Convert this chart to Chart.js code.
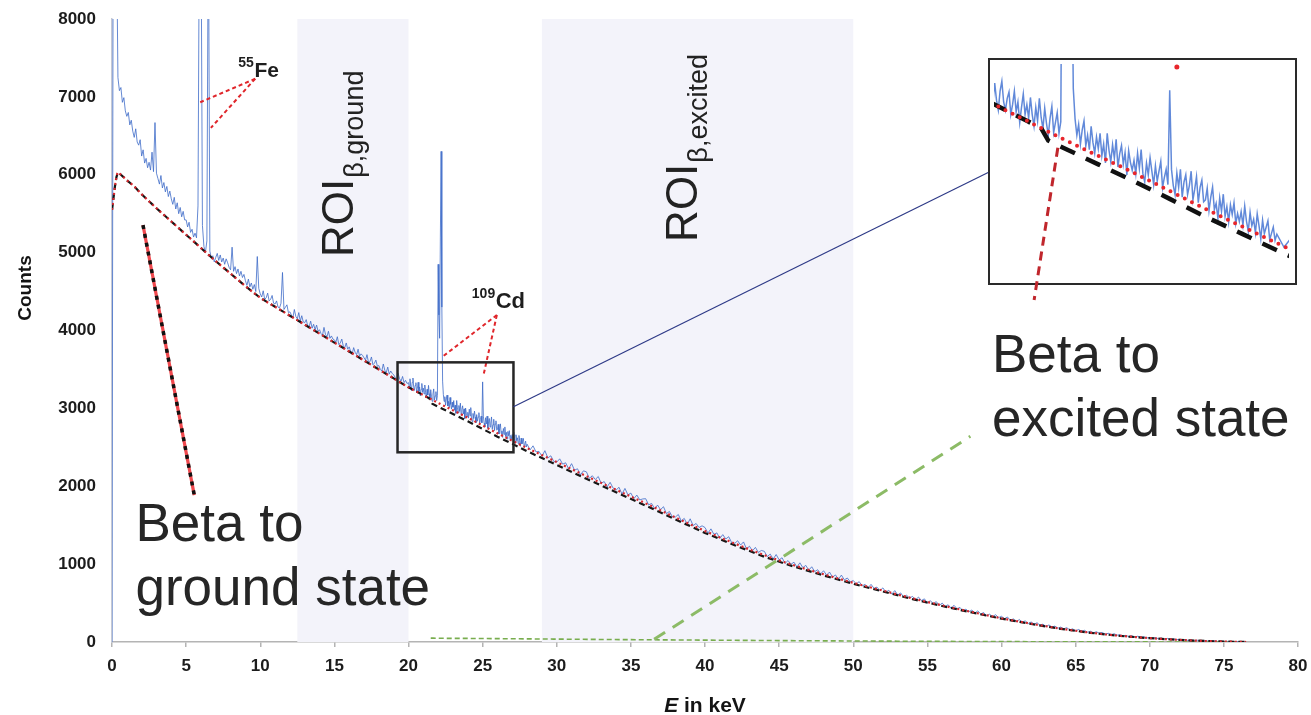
<!DOCTYPE html>
<html>
<head>
<meta charset="utf-8">
<title>Beta spectrum</title>
<script src="https://cdn.jsdelivr.net/npm/chart.js@4.4.1/dist/chart.umd.min.js"></script>
<style>
  html, body { margin: 0; padding: 0; background: #fff; }
  #stage { position: relative; width: 1311px; height: 715px; overflow: hidden; }
  #main, #overlay { position: absolute; left: 0; top: 0; }
  #overlay { pointer-events: none; }
  #insetFrame { position: absolute; box-sizing: border-box; border: 2.5px solid #2a2a2a; background: #fff; overflow: hidden; }
  #inset { display: block; filter: blur(0.7px); }
</style>
</head>
<body>
<div id="stage">
  <canvas id="main" width="1311" height="715"></canvas>
  <div id="insetFrame"><canvas id="inset"></canvas></div>
  <canvas id="overlay" width="1311" height="715"></canvas>
</div>
<script>
// ---------- measured spectrum (counts per bin) ----------
// 0.0 ... 19.9 keV in 0.1 keV steps
const lowBandStart = 0.0;
const lowBandStep = 0.1;
const lowBandCounts = [
  0, 12000, 11000, 9200, 7250, 7080, 7120, 6930, 6990, 6820,
  6750, 6800, 6640, 6700, 6560, 6480, 6590, 6420, 6380, 6450,
  6240, 6320, 6150, 6210, 6090, 6160, 6060, 6290, 6040, 6670,
  6020, 5950, 5880, 5990, 5830, 5900, 5780, 5850, 5720, 5790,
  5690, 5620, 5710, 5560, 5640, 5500, 5580, 5460, 5530, 5420,
  5420, 5330, 5390, 5260, 5300, 5200, 5250, 5190, 5600, 9500,
  9500, 5350, 5080, 5000, 5150, 9500, 5020, 4930, 4960, 4880,
  4940, 4990, 4900, 4970, 4880, 4930, 4850, 4920, 4870, 4810,
  4780, 5070, 4760, 4820, 4730, 4790, 4700, 4760, 4680, 4720,
  4640, 4580, 4660, 4560, 4610, 4530, 4590, 4500, 4950, 4540,
  4470, 4430, 4510, 4400, 4420, 4480, 4380, 4400, 4450, 4350,
  4340, 4380, 4300, 4290, 4350, 4745, 4270, 4300, 4330, 4230,
  4240, 4200, 4160, 4270, 4180, 4150, 4230, 4120, 4190, 4110,
  4100, 4140, 4060, 4050, 4120, 4030, 4080, 4010, 4070, 3990,
  4010, 3960, 3940, 4040, 3950, 3920, 3990, 3900, 3930, 3890,
  3880, 3850, 3920, 3820, 3840, 3890, 3800, 3780, 3840, 3760,
  3790, 3730, 3700, 3780, 3720, 3690, 3760, 3670, 3700, 3680,
  3650, 3620, 3690, 3590, 3600, 3660, 3560, 3580, 3620, 3540,
  3550, 3500, 3480, 3570, 3490, 3460, 3530, 3440, 3480, 3450,
  3430, 3400, 3360, 3450, 3380, 3350, 3410, 3330, 3360, 3320
];
// 20.00 ... 27.95 keV in 0.05 keV steps (109Cd lines region)
const midBandStart = 20.0;
const midBandStep = 0.05;
const midBandCounts = [
  3330, 3275, 3380, 3285, 3230, 3335, 3390, 3275, 3230, 3295, 3330, 3205, 3260, 3335, 3220, 3275, 3160, 3245, 3320, 3205,
  3260, 3185, 3300, 3205, 3140, 3245, 3170, 3295, 3190, 3125, 3240, 3155, 3090, 3185, 3250, 3105, 3160, 3215, 3100, 3165,
  4850, 4200, 3900, 5200, 6300, 4300, 3350, 3180, 3090, 3150, 3040, 3120, 3170, 3030, 3090, 3010, 3140, 3050, 2990, 3080,
  3015, 3100, 2976, 3041, 2936, 3101, 3006, 2942, 3037, 2962, 3067, 2913, 2988, 3033, 2928, 2994, 2869, 3004, 2939, 2895,
  2950, 2875, 2990, 2905, 3010, 2875, 2830, 2935, 2870, 2965, 2890, 2815, 2920, 2835, 2890, 2945, 2800, 2855, 2900, 2815,
  3340, 2900, 2810, 2760, 2880, 2800, 2900, 2745, 2830, 2870, 2760, 2810, 2890, 2730, 2790, 2860, 2715, 2800, 2840, 2720,
  2730, 2795, 2671, 2746, 2801, 2676, 2711, 2627, 2742, 2667, 2762, 2638, 2693, 2608, 2703, 2649, 2714, 2599, 2654, 2610,
  2665, 2590, 2696, 2611, 2556, 2661, 2586, 2622, 2547, 2652, 2587, 2513, 2618, 2543, 2578, 2614, 2509, 2544, 2579, 2505
];
// 28.0 ... 76.4 keV in 0.2 keV steps
const highBandStart = 28.0;
const highBandStep = 0.2;
const highBandCounts = [
  2540, 2467, 2519, 2441, 2448, 2385, 2457, 2364, 2391, 2318,
  2310, 2352, 2284, 2301, 2223, 2290, 2207, 2224, 2146, 2198,
  2185, 2102, 2135, 2087, 2125, 2037, 2060, 1992, 2050, 1977,
  1950, 1987, 1900, 1972, 1890, 1912, 1840, 1887, 1825, 1837,
  1840, 1762, 1779, 1711, 1758, 1700, 1737, 1649, 1676, 1608,
  1605, 1637, 1555, 1587, 1510, 1582, 1495, 1522, 1470, 1492,
  1470, 1399, 1453, 1382, 1401, 1330, 1379, 1323, 1352, 1276,
  1265, 1300, 1245, 1285, 1195, 1230, 1170, 1215, 1150, 1175,
  1165, 1097, 1129, 1066, 1123, 1055, 1082, 1009, 1046, 998,
  1025, 963, 1017, 955, 984, 922, 966, 904, 928, 876,
  915, 859, 898, 832, 861, 805, 859, 798, 822, 771,
  790, 745, 775, 720, 740, 695, 740, 690, 705, 660,
  695, 640, 665, 615, 660, 605, 630, 575, 600, 565,
  585, 541, 577, 533, 554, 500, 531, 492, 518, 469,
  500, 456, 478, 434, 471, 427, 444, 400, 422, 388,
  410, 372, 399, 361, 378, 335, 357, 324, 351, 313,
  330, 298, 321, 279, 297, 260, 288, 256, 271, 237,
  257, 229, 247, 214, 230, 198, 219, 193, 204, 176,
  192, 169, 184, 156, 169, 144, 161, 138, 150, 125,
  138, 118, 132, 112, 122, 100, 112, 94, 106, 88,
  93, 76, 86, 68, 79, 63, 75, 59, 67, 51,
  59, 46, 56, 41, 50, 37, 46, 34, 41, 29,
  34, 23, 31, 19, 26, 16, 23, 14, 20, 10,
  17, 9, 14, 7, 12, 5, 9, 4, 7, 2,
  4, 1, 2
];

// ---------- fitted components ----------
const fitEnergy = [0, 0.1, 0.2, 0.3, 0.4, 0.6, 1, 1.5, 2, 3, 4, 5, 6, 7, 8, 9, 10, 11, 12, 13, 14, 15, 16, 17, 18, 19, 20, 21, 21.4, 21.6,
  22, 23, 24, 25, 26, 27, 28, 29, 30, 32, 34, 36, 38, 40, 42, 44, 46, 48, 50, 52, 54, 56, 58, 60, 62, 64, 66, 68, 70, 72, 74, 76, 76.5];
// total fit (ground + excited)
const totalFit = [5550, 5700, 5850, 5970, 6030, 6000, 5930, 5850, 5750, 5570, 5400, 5230, 5060, 4890, 4730, 4570, 4420, 4305, 4190, 4075,
  3960, 3845, 3730, 3615, 3500, 3385, 3270, 3170, 3130, 3110,
  3070, 2975, 2880, 2780, 2680, 2585, 2490, 2400, 2310, 2130, 1955, 1780, 1600, 1425, 1265, 1115, 985, 870, 760, 660, 560, 470, 385, 305,
  235, 172, 120, 80, 50, 27, 11, 2, 0];
// beta decay to the ground state
const groundFit = [5550, 5700, 5850, 5970, 6030, 6000, 5930, 5850, 5750, 5570, 5400, 5230, 5060, 4890, 4730, 4570, 4420, 4305, 4190, 4075,
  3960, 3845, 3730, 3615, 3500, 3385, 3270, 3170, 3130, 3060,
  3022, 2928, 2834, 2736, 2637, 2544, 2450, 2362, 2273, 2096, 1924, 1751, 1574, 1401, 1243, 1095, 968, 855, 747, 649, 550, 462, 379, 300,
  231, 169, 118, 78, 49, 27, 11, 2, 0];
// beta decay to the excited state
const excitedEnergy = [21.5, 22, 24, 26, 28, 30, 35, 40, 45, 50, 55, 60, 65, 70, 76.5];
const excitedFit = [50, 48, 46, 43, 40, 37, 30, 24, 18, 13, 9, 5, 3, 1, 0];
// fitted 25 keV line apex, shown in the magnified view
const lineMarkerEnergy = [25.2];
const lineMarkerCounts = [3470];

// ---------- axes ----------
const energyRange = [0, 80];
const energyStep = 5;
const countRange = [0, 8000];
const countStep = 1000;
const zoomEnergyRange = [20.08, 28.34];
const zoomCountRange = [2296, 3486];

// ---------- regions of interest and annotations (energy keV, counts) ----------
const roiBands = [[12.5, 20], [29, 50]];
const roiLabels = [
  { at: [16.25, 4945], main: 'ROI', sub: 'β,ground' },
  { at: [39.45, 5138], main: 'ROI', sub: 'β,excited' }
];
const feLeaders = [[[9.66, 7233], [5.95, 6931]], [[9.66, 7233], [6.67, 6602]]];
const cdLeaders = [[[25.96, 4199], [22.32, 3667]], [[25.96, 4199], [25.06, 3428]]];
const lineLabels = [
  { at: [8.52, 7257], sup: '55', text: 'Fe', size: 21 },
  { at: [24.27, 4289], sup: '109', text: 'Cd', size: 22 }
];
const groundPointer = [[2.09, 5354], [5.55, 1886]];
const excitedPointer = [[63.8, 6346], [62.2, 4391]];
const excitedCurvePointer = [[36.57, 34], [57.9, 2641]];
const zoomBox = [[19.26, 3591], [27.08, 2436]];
const zoomConnector = [[27.08, 3021], [59.1, 6028]];
const insetBox = [[59.1, 7495], [79.9, 4585]];
const stateLabels = [
  { at: [1.58, 1295], lines: ['Beta to', 'ground state'] },
  { at: [59.36, 3467], lines: ['Beta to', 'excited state'] }
];

// ---------- build library data ----------
const FONT = "'Liberation Sans', Arial, Helvetica, sans-serif";
Chart.defaults.font.family = FONT;

const spectrumPoints = [];
function addBand(start, step, counts) {
  counts.forEach((c, i) => spectrumPoints.push({ x: +(start + i * step).toFixed(3), y: c }));
}
addBand(lowBandStart, lowBandStep, lowBandCounts);
addBand(midBandStart, midBandStep, midBandCounts);
addBand(highBandStart, highBandStep, highBandCounts);
const pairUp = (xs, ys) => xs.map((x, i) => ({ x: x, y: ys[i] }));
const totalPoints = pairUp(fitEnergy, totalFit);
const groundPoints = pairUp(fitEnergy, groundFit);
const excitedPoints = pairUp(excitedEnergy, excitedFit);
const markerPoints = pairUp(lineMarkerEnergy, lineMarkerCounts);

const roiShading = {
  id: 'roiShading',
  beforeDatasetsDraw(chart) {
    const { ctx, chartArea, scales } = chart;
    ctx.save();
    ctx.fillStyle = '#f3f3fa';
    roiBands.forEach(([a, b]) => {
      const x1 = scales.x.getPixelForValue(a);
      const x2 = scales.x.getPixelForValue(b);
      ctx.fillRect(x1, chartArea.top, x2 - x1, chartArea.bottom - chartArea.top);
    });
    ctx.restore();
  }
};

const mainChart = new Chart(document.getElementById('main'), {
  type: 'line',
  data: {
    datasets: [
      { data: totalPoints, borderColor: '#d8282e', borderWidth: 2.2, borderDash: [2, 3], pointRadius: 0, cubicInterpolationMode: 'monotone', order: 0 },
      { data: groundPoints, borderColor: '#161616', borderWidth: 2.2, borderDash: [6, 4], pointRadius: 0, tension: 0, order: 1 },
      { data: excitedPoints, borderColor: '#78ad4e', borderWidth: 1.6, borderDash: [5, 3], pointRadius: 0, cubicInterpolationMode: 'monotone', order: 2 },
      { data: spectrumPoints, borderColor: 'rgba(62,108,200,0.8)', borderWidth: 1, pointRadius: 0, tension: 0, order: 3 }
    ]
  },
  options: {
    responsive: false,
    animation: false,
    devicePixelRatio: 1,
    events: [],
    layout: { padding: { left: 0, top: 19, right: 13, bottom: 0 } },
    plugins: { legend: { display: false }, tooltip: { enabled: false } },
    scales: {
      x: {
        type: 'linear', min: energyRange[0], max: energyRange[1],
        ticks: { stepSize: energyStep, color: '#1c1c1c', font: { size: 17, weight: 'bold' }, padding: 9, maxRotation: 0,
          callback: v => String(v) },
        grid: { drawOnChartArea: false, drawTicks: true, tickLength: 5, color: '#b4b4b4', lineWidth: 1.5 },
        border: { color: '#b4b4b4', width: 1.5 },
        afterFit(scale) { scale.height = 73; scale.paddingLeft = 0; scale.paddingRight = 0; }
      },
      y: {
        type: 'linear', min: countRange[0], max: countRange[1],
        ticks: { stepSize: countStep, color: '#1c1c1c', font: { size: 17, weight: 'bold' }, padding: 16,
          callback: v => String(v) },
        grid: { drawOnChartArea: false, drawTicks: false },
        border: { color: '#c4c8d4', width: 1.5 },
        afterFit(scale) { scale.width = 112; scale.paddingTop = 0; scale.paddingBottom = 0; }
      }
    }
  },
  plugins: [roiShading]
});

// ---------- magnified view ----------
const sx = v => mainChart.scales.x.getPixelForValue(v);
const sy = v => mainChart.scales.y.getPixelForValue(v);
const frame = document.getElementById('insetFrame');
const fLeft = sx(insetBox[0][0]), fTop = sy(insetBox[0][1]);
const fRight = sx(insetBox[1][0]), fBottom = sy(insetBox[1][1]);
frame.style.left = fLeft + 'px';
frame.style.top = fTop + 'px';
frame.style.width = (fRight - fLeft) + 'px';
frame.style.height = (fBottom - fTop) + 'px';
const insetCanvas = document.getElementById('inset');
const innerW = Math.round(fRight - fLeft - 5), innerH = Math.round(fBottom - fTop - 5);
insetCanvas.width = innerW; insetCanvas.height = innerH;
insetCanvas.style.width = innerW + 'px'; insetCanvas.style.height = innerH + 'px';

new Chart(insetCanvas, {
  type: 'line',
  data: {
    datasets: [
      { data: totalPoints, borderColor: '#e8262c', borderWidth: 4, borderDash: [0, 8], borderCapStyle: 'round', pointRadius: 0, cubicInterpolationMode: 'monotone', order: 0 },
      { type: 'scatter', data: markerPoints, pointRadius: 2.5, backgroundColor: '#e8262c', borderWidth: 0, order: 0 },
      { data: groundPoints, borderColor: '#111111', borderWidth: 4.5, borderDash: [16, 12], pointRadius: 0, tension: 0, order: 1 },
      { data: spectrumPoints, borderColor: 'rgba(58,108,208,0.8)', borderWidth: 1.5, pointRadius: 0, tension: 0, order: 2 }
    ]
  },
  options: {
    responsive: false,
    animation: false,
    devicePixelRatio: 1,
    events: [],
    layout: { padding: 0 },
    plugins: { legend: { display: false }, tooltip: { enabled: false } },
    scales: {
      x: { type: 'linear', display: false, min: zoomEnergyRange[0], max: zoomEnergyRange[1] },
      y: { type: 'linear', display: false, min: zoomCountRange[0], max: zoomCountRange[1] }
    }
  }
});

// ---------- annotation layer ----------
(function drawAnnotations() {
  const ctx = document.getElementById('overlay').getContext('2d');
  const P = ([e, c]) => [sx(e), sy(c)];
  const area = mainChart.chartArea;

  function segment(a, b, color, width, dash, cap) {
    const [x1, y1] = P(a), [x2, y2] = P(b);
    ctx.save();
    ctx.strokeStyle = color; ctx.lineWidth = width;
    ctx.setLineDash(dash || []);
    ctx.lineCap = cap || 'butt';
    ctx.beginPath(); ctx.moveTo(x1, y1); ctx.lineTo(x2, y2); ctx.stroke();
    ctx.restore();
  }

  // leaders to the calibration lines
  feLeaders.concat(cdLeaders).forEach(([a, b]) => segment(a, b, '#e0262b', 2, [4, 3]));

  // magnified region and its connector
  const [bx1, by1] = P(zoomBox[0]), [bx2, by2] = P(zoomBox[1]);
  ctx.save();
  ctx.strokeStyle = '#262626'; ctx.lineWidth = 2.5;
  ctx.strokeRect(bx1, by1, bx2 - bx1, by2 - by1);
  ctx.restore();
  segment(zoomConnector[0], zoomConnector[1], '#2e3a87', 1.2);

  // pointers to the fit components
  segment(groundPointer[0], groundPointer[1], '#f0494e', 3.2);
  segment(groundPointer[0], groundPointer[1], '#111111', 3.5, [4, 5]);
  segment(excitedPointer[0], excitedPointer[1], '#c0262c', 3, [9, 6]);
  segment(excitedCurvePointer[0], excitedCurvePointer[1], '#8cbb66', 3, [13, 9]);

  ctx.fillStyle = '#1e1e1e';
  ctx.textBaseline = 'alphabetic';

  // calibration line names with mass numbers
  lineLabels.forEach(l => {
    const [x, y] = P(l.at);
    ctx.textAlign = 'left';
    ctx.font = 'bold 14px ' + FONT;
    ctx.fillText(l.sup, x, y - 10);
    const w = ctx.measureText(l.sup).width;
    ctx.font = 'bold ' + l.size + 'px ' + FONT;
    ctx.fillText(l.text, x + w + 0.5, y);
  });

  // region of interest names, written upwards
  roiLabels.forEach(r => {
    const [x, y] = P(r.at);
    ctx.save();
    ctx.translate(x, y);
    ctx.rotate(-Math.PI / 2);
    ctx.fillStyle = '#222';
    ctx.textAlign = 'left';
    ctx.font = '44px ' + FONT;
    ctx.fillText(r.main, 0, 0);
    const w = ctx.measureText(r.main).width;
    ctx.font = '27px ' + FONT;
    ctx.fillText(r.sub, w + 1, 10);
    ctx.restore();
  });

  // component names
  stateLabels.forEach(s => {
    const [x, y] = P(s.at);
    ctx.fillStyle = '#262626';
    ctx.textAlign = 'left';
    ctx.font = '53px ' + FONT;
    s.lines.forEach((t, i) => ctx.fillText(t, x, y + i * 64));
  });

  // axis titles
  ctx.fillStyle = '#141414';
  ctx.save();
  ctx.translate(30.5, 288);
  ctx.rotate(-Math.PI / 2);
  ctx.textAlign = 'center';
  ctx.font = 'bold 19px ' + FONT;
  ctx.fillText('Counts', 0, 0);
  ctx.restore();

  const cx = (area.left + area.right) / 2;
  ctx.font = 'italic bold 21px ' + FONT;
  const wE = ctx.measureText('E').width;
  ctx.font = 'bold 21px ' + FONT;
  const wRest = ctx.measureText(' in keV').width;
  const startX = cx - (wE + wRest) / 2;
  ctx.textAlign = 'left';
  ctx.font = 'italic bold 21px ' + FONT;
  ctx.fillText('E', startX, 711.5);
  ctx.font = 'bold 21px ' + FONT;
  ctx.fillText(' in keV', startX + wE, 711.5);
})();
</script>
</body>
</html>
